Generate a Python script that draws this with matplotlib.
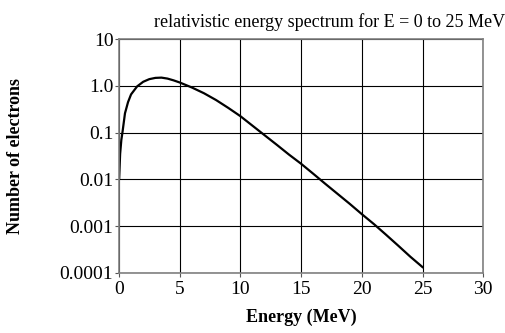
import matplotlib.pyplot as plt

# values
energy = [0.02, 0.1, 0.2, 0.3, 0.5, 0.75, 1.0, 1.5, 2.0, 2.5, 3.0, 3.5, 4.0, 4.5,
          5.0, 6.0, 7.0, 8.0, 9.0, 10.0, 11.0, 12.0, 13.0, 14.0, 15.0, 16.0,
          17.0, 18.0, 19.0, 20.0, 21.0, 22.0, 23.0, 24.0, 25.0]
electrons = [0.0105, 0.035, 0.07, 0.105, 0.26, 0.45, 0.66, 0.98, 1.23, 1.40, 1.49,
             1.51, 1.44, 1.32, 1.19, 0.93, 0.70, 0.50, 0.34, 0.226, 0.141, 0.088,
             0.055, 0.034, 0.0216, 0.0132, 0.0080, 0.0049, 0.0030, 0.0018, 0.0011,
             0.00065, 0.00038, 0.00022, 0.000132]

xticks = [0, 5, 10, 15, 20, 25, 30]
yticks = [0.0001, 0.001, 0.01, 0.1, 1.0, 10]
ytick_labels = ['0.0001', '0.001', '0.01', '0.1', '1.0', '10']

plt.rcParams['font.family'] = ['Liberation Serif', 'DejaVu Serif']

fig = plt.figure(figsize=(5.06, 3.33), dpi=100)
ax = fig.add_axes([0.235, 0.181, 0.72, 0.701])

ax.plot(energy, electrons, color='black', linewidth=1.6)
ax.set_yscale('log')
ax.set_xlim(0, 30)
ax.set_ylim(0.0001, 10)
ax.set_xticks(xticks)
ax.set_xticklabels([str(t) for t in xticks])
ax.set_yticks(yticks)
ax.set_yticklabels(ytick_labels)
ax.minorticks_off()
ax.tick_params(labelsize=14, length=3, width=0.8, color='#555555')
ax.tick_params(axis='x', pad=3)
ax.tick_params(axis='y', pad=1)
ax.grid(True, color='black', linewidth=0.8)

for s in ax.spines.values():
    s.set_color('#808080')
    s.set_linewidth(1.2)

ax.set_xlabel('Energy (MeV)', fontsize=13, fontweight='bold')
ax.set_ylabel('Number of electrons', fontsize=13, fontweight='bold')
ax.xaxis.set_label_coords(0.5, -0.155)
ax.yaxis.set_label_coords(-0.261, 0.5)
fig.text(0.652, 0.933, 'relativistic energy spectrum for E = 0 to 25 MeV',
         ha='center', va='center', fontsize=13)

fig.savefig('out.png', dpi=100)
